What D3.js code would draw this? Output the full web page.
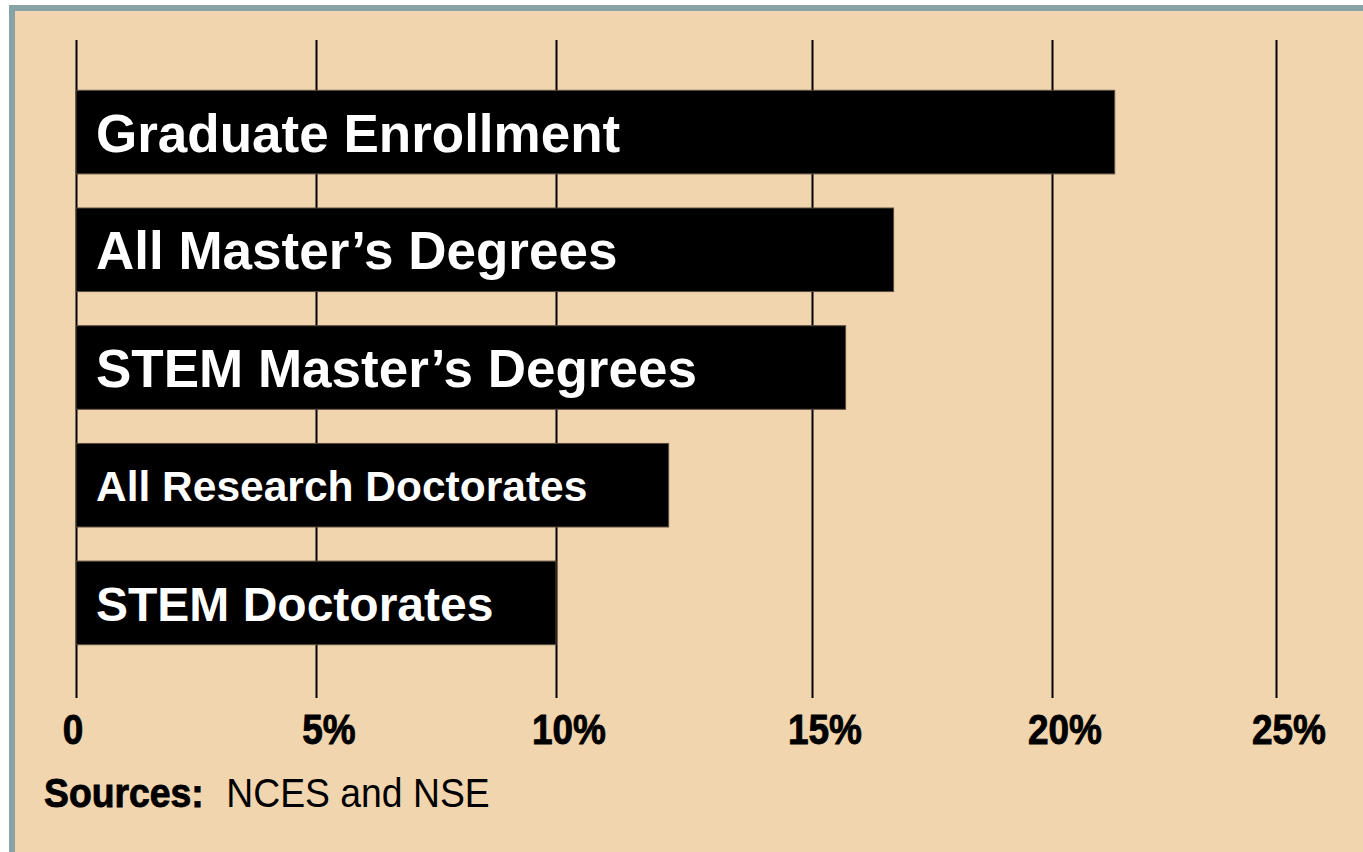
<!DOCTYPE html>
<html>
<head>
<meta charset="utf-8">
<script src="https://cdn.jsdelivr.net/npm/d3@7"></script>
<style>
  html, body { margin: 0; padding: 0; background: #ffffff; }
  svg { display: block; }
  text { font-family: "Liberation Sans", Arial, Helvetica, sans-serif; }
</style>
</head>
<body>
<svg id="chart" width="1363" height="852"></svg>
<script>
// ---- data ----
const categories = [
  "Graduate Enrollment",
  "All Master\u2019s Degrees",
  "STEM Master\u2019s Degrees",
  "All Research Doctorates",
  "STEM Doctorates"
];
const values = [21.4, 16.7, 15.7, 12.2, 10.0];
const tickValues = [0, 5, 10, 15, 20, 25];
const tickLabels = ["0", "5%", "10%", "15%", "20%", "25%"];
const sourceLabel = "Sources:";
const sourceText = "NCES and NSE";

// ---- drawing ----
const W = 1363, H = 852;
const svg = d3.select("#chart");

// panel background and border
svg.append("rect").attr("x", 9).attr("y", 5).attr("width", W - 9).attr("height", H - 5)
  .attr("fill", "#f1d5ae");
svg.append("rect").attr("x", 9).attr("y", 5).attr("width", W - 9).attr("height", 6)
  .attr("fill", "#88a3a5");
svg.append("rect").attr("x", 9).attr("y", 5).attr("width", 6).attr("height", H - 5)
  .attr("fill", "#88a3a5");

// scales (gridlines in the original are not evenly spaced)
const x = d3.scaleLinear()
  .domain(tickValues)
  .range([76, 316, 556, 812, 1052, 1276]);

const y = d3.scaleBand()
  .domain(categories)
  .range([55, 680])
  .paddingInner(0.29)
  .paddingOuter(0.3);

const gridTop = 40, gridBottom = 698;

// gridlines via axis
const axisG = svg.append("g")
  .attr("transform", `translate(0,${gridBottom})`)
  .call(d3.axisBottom(x)
    .tickValues(tickValues)
    .tickSizeInner(-(gridBottom - gridTop))
    .tickSizeOuter(0)
    .tickFormat(""));
axisG.select(".domain").remove();
axisG.selectAll(".tick line").attr("stroke", "#000").attr("stroke-width", 2);
axisG.selectAll(".tick text").remove();

// bars
const data = categories.map((c, i) => ({ cat: c, val: values[i], i }));
svg.append("g").selectAll("rect")
  .data(data)
  .join("rect")
  .attr("x", x(0))
  .attr("y", d => y(d.cat))
  .attr("width", d => x(d.val) - x(0))
  .attr("height", y.bandwidth())
  .attr("fill", "#000")
  .attr("stroke", "#5a4c3e")
  .attr("stroke-width", 1);

// bar labels
const labelFontSizes = [53, 53, 53, 42.5, 48];
svg.append("g").selectAll("text")
  .data(data)
  .join("text")
  .attr("x", x(0) + 20)
  .attr("y", d => y(d.cat) + y.bandwidth() / 2 + 0.37 * labelFontSizes[d.i])
  .attr("fill", "#fff")
  .attr("font-weight", "bold")
  .attr("font-size", d => labelFontSizes[d.i] + "px")
  .text(d => d.cat);

// tick labels
svg.append("g").selectAll("text")
  .data(tickValues)
  .join("text")
  .attr("transform", (t) => `translate(${x(t) + (t === 0 ? -3 : 13)},744) scale(0.88,1)`)
  .attr("text-anchor", "middle")
  .attr("font-weight", "bold")
  .attr("font-size", "42px")
  .attr("fill", "#000")
  .attr("stroke", "#000")
  .attr("stroke-width", 0.9)
  .text((t, i) => tickLabels[i]);

// source note
const src = svg.append("text")
  .attr("transform", "translate(44,807) scale(0.91,1)")
  .attr("font-size", "41px")
  .attr("fill", "#000");
src.append("tspan")
  .attr("font-weight", "bold")
  .attr("stroke", "#000")
  .attr("stroke-width", 0.9)
  .text(sourceLabel);
src.append("tspan")
  .attr("dx", 25)
  .text(sourceText);
</script>
</body>
</html>
